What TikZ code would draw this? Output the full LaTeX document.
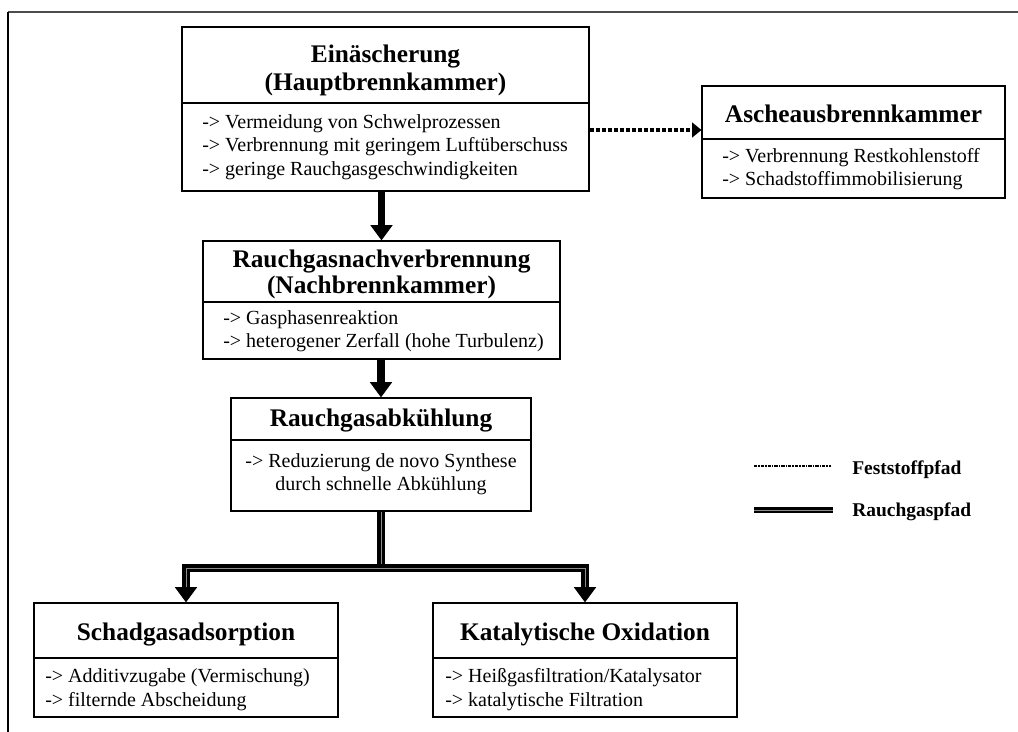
\documentclass[tikz,border=0pt]{standalone}
\usepackage{fontspec}
\setmainfont{Liberation Serif}
\usetikzlibrary{arrows.meta,fit}
\begin{document}
\begin{tikzpicture}[x=0.75pt,y=-0.75pt,
  box/.style={draw=black, line width=0.8pt, inner sep=0pt},
  divider/.style={draw=black, line width=0.8pt},
  ttl/.style={font=\fontsize{19}{22}\selectfont\bfseries, anchor=base, inner sep=0pt},
  itm/.style={font=\fontsize{15}{18}\selectfont, anchor=base west, inner sep=0pt},
  itmc/.style={font=\fontsize{15}{18}\selectfont, anchor=base, inner sep=0pt},
  leg/.style={font=\fontsize{14.6}{17}\selectfont\bfseries, anchor=base west, inner sep=0pt},
  rgline/.style={line width=5pt, postaction={draw=black!45, line width=0.35pt}},
  rgsolid/.style={line width=5.3pt, -{Triangle[width=16pt,length=11.5pt]}},
  rg/.style={line width=5.3pt, -{Triangle[width=16pt,length=11.5pt]},
    postaction={draw=black!45, line width=0.35pt, -, shorten >=11.5pt}},
  fsline/.style={line width=2.6pt, dash pattern=on 3.5pt off 1pt},
  fs/.style={fsline, -{Triangle[width=11pt,length=7pt]}},
]
\useasboundingbox (0,0) rectangle (1018,732);

% frame
\draw[line width=1.1pt, draw=black!70] (8,12) -- (1018,12);
\draw[line width=1.1pt] (8,12) -- (8,732);

% Einaescherung
\node[box, fit={(182,27)(589,191)}] (b1) {};
\draw[divider] (b1.west |- 0,103) -- (b1.east |- 0,103);
\node[ttl] (b1t1) at (385.5,62) {Einäscherung};
\node[ttl] (b1t2) at (385.5,90) {(Hauptbrennkammer)};
\node[itm] (b1l1) at (202,128) {-> Vermeidung von Schwelprozessen};
\node[itm] (b1l2) at (202,151) {-> Verbrennung mit geringem Luftüberschuss};
\node[itm] (b1l3) at (202,175) {-> geringe Rauchgasgeschwindigkeiten};

% Ascheausbrennkammer
\node[box, fit={(702,86)(1005,198)}] (ab) {};
\draw[divider] (ab.west |- 0,139) -- (ab.east |- 0,139);
\node[ttl] (abt) at (853.5,122) {Ascheausbrennkammer};
\node[itm] (abl1) at (722,162) {-> Verbrennung Restkohlenstoff};
\node[itm] (abl2) at (722,185) {-> Schadstoffimmobilisierung};

% Rauchgasnachverbrennung
\node[box, fit={(203,241)(560,359)}] (b2) {};
\draw[divider] (b2.west |- 0,302) -- (b2.east |- 0,302);
\node[ttl] (b2t1) at (381.5,267) {Rauchgasnachverbrennung};
\node[ttl] (b2t2) at (381.5,293) {(Nachbrennkammer)};
\node[itm] (b2l1) at (223,324) {-> Gasphasenreaktion};
\node[itm] (b2l2) at (223,347) {-> heterogener Zerfall (hohe Turbulenz)};

% Rauchgasabkuehlung
\node[box, fit={(231,398)(531,511)}] (b3) {};
\draw[divider] (b3.west |- 0,440) -- (b3.east |- 0,440);
\node[ttl] (b3t) at (381,426) {Rauchgasabkühlung};
\node[itmc] (b3l1) at (381,467) {-> Reduzierung de novo Synthese};
\node[itmc] (b3l2) at (381,490) {durch schnelle Abkühlung};

% Schadgasadsorption
\node[box, fit={(34,603)(338,717)}] (b4) {};
\draw[divider] (b4.west |- 0,658) -- (b4.east |- 0,658);
\node[ttl] (b4t) at (186,640) {Schadgasadsorption};
\node[itm] (b4l1) at (45,682) {-> Additivzugabe (Vermischung)};
\node[itm] (b4l2) at (45,706) {-> filternde Abscheidung};

% Katalytische Oxidation
\node[box, fit={(433,603)(737,717)}] (b5) {};
\draw[divider] (b5.west |- 0,658) -- (b5.east |- 0,658);
\node[ttl] (b5t) at (585,640) {Katalytische Oxidation};
\node[itm] (b5l1) at (445,682) {-> Heißgasfiltration/Katalysator};
\node[itm] (b5l2) at (445,706) {-> katalytische Filtration};

% flue gas path
\draw[rgsolid] (b2.north |- b1.south) -- (b2.north);
\draw[rgsolid] (b3.north |- b2.south) -- (b3.north);
\coordinate (split) at (381,568);
\draw[rg] (b3.south) -- (split) -| (b4.north);
\draw[rg] (split) -| (b5.north);

% solids path
\draw[fs] (b1.east |- 0,130) -- (ab.west |- 0,130);

% legend
\coordinate (lfa) at (754,466);
\coordinate (lfb) at (831,466);
\draw[fsline, line width=2.2pt, dash pattern=on 2.5pt off 0.8pt on 1pt off 0.8pt] (lfa) -- (lfb);
\node[leg] (lft) at (852,474) {Feststoffpfad};
\coordinate (lra) at (754,510);
\coordinate (lrb) at (833,510);
\draw[rgline, line width=4.5pt] (lra) -- (lrb);
\node[leg] (lrt) at (852,516) {Rauchgaspfad};
\end{tikzpicture}
\end{document}
